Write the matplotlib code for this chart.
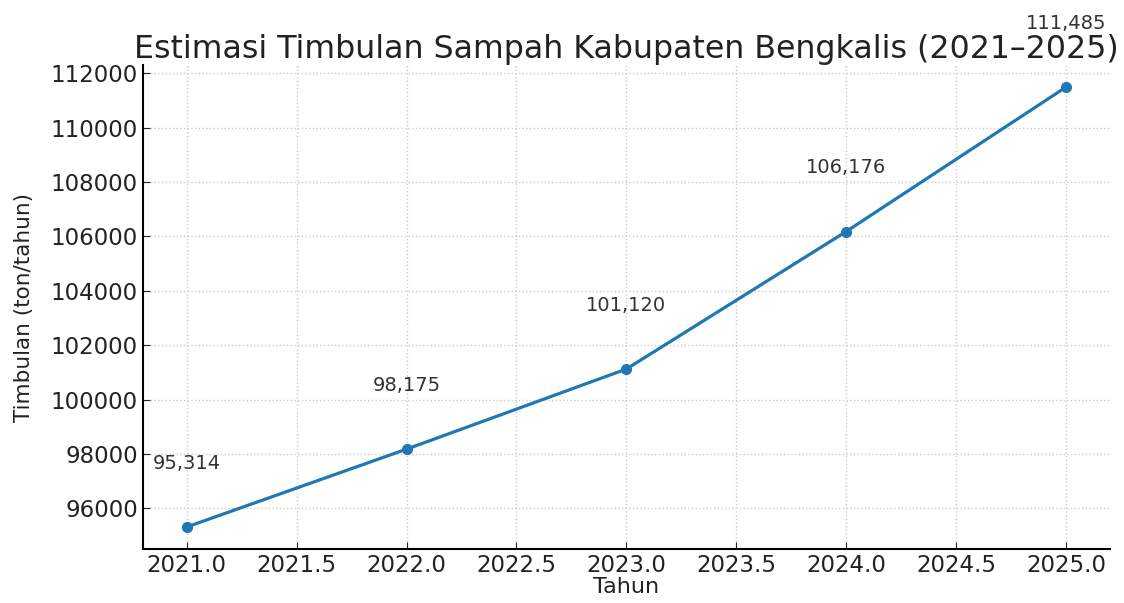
import matplotlib
matplotlib.use("Agg")
import matplotlib.pyplot as plt

years = [2021, 2022, 2023, 2024, 2025]
timbulan = [95314, 98175, 101120, 106176, 111485]
labels = ["95,314", "98,175", "101,120", "106,176", "111,485"]

fig = plt.figure(figsize=(11.24, 6.03), dpi=100)
ax = fig.add_axes([0.127, 0.0896, 0.8605, 0.8024])
ax.plot(years, timbulan, marker="o", color="#1f77b4", linewidth=2.3, markersize=7)
for x, y, t in zip(years, timbulan, labels):
    ax.text(x, y + 2000, t, ha="center", va="bottom", fontsize=14, color="#333333")

ax.set_title("Estimasi Timbulan Sampah Kabupaten Bengkalis (2021\u20132025)", fontsize=22.8, color="#222222", pad=5)
ax.set_xlabel("Tahun", fontsize=16, labelpad=0, color="#222222")
ax.set_ylabel("Timbulan (ton/tahun)", fontsize=15.5, labelpad=12, color="#222222")
ax.tick_params(labelsize=16.5, colors="#222222", direction="in", length=5)
ax.grid(True, linestyle=":", color="#cccccc", linewidth=1.0)
ax.spines["top"].set_visible(False)
ax.spines["right"].set_visible(False)
ax.spines["left"].set_linewidth(1.5)
ax.spines["bottom"].set_linewidth(1.5)

fig.savefig("out.png", dpi=100)
